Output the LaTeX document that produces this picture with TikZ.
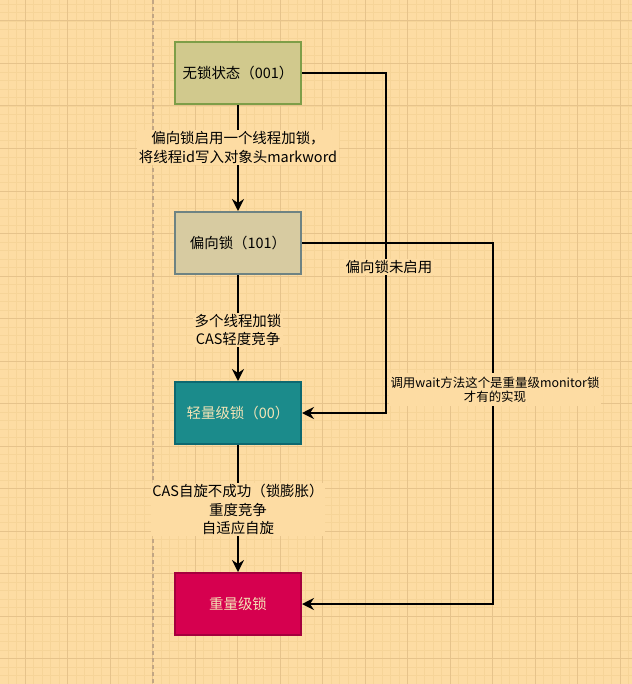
\documentclass[tikz,border=0pt]{standalone}
\usepackage{fontspec}
\setmainfont{Noto Sans CJK SC}
\usetikzlibrary{arrows.meta}
\definecolor{bg}{HTML}{FDDCA3}
\definecolor{minorc}{HTML}{F6D498}
\definecolor{majorc}{HTML}{E6C38B}
\definecolor{dashc}{HTML}{C2A684}
\definecolor{fillA}{HTML}{D1C98D}
\definecolor{drawA}{HTML}{7E9E48}
\definecolor{fillB}{HTML}{D7CBA1}
\definecolor{drawB}{HTML}{6E8383}
\definecolor{fillC}{HTML}{1B8B8B}
\definecolor{drawC}{HTML}{0D6870}
\definecolor{fillD}{HTML}{D6004F}
\definecolor{drawD}{HTML}{A5003D}
\definecolor{lighttext}{HTML}{F4E4B6}
\begin{document}
\begin{tikzpicture}[x=1bp,y=-1bp,
  box/.style={draw, line width=2bp, minimum width=126bp, minimum height=62bp, inner sep=0pt, font=\fontsize{14.5}{18}\selectfont},
  arr/.style={line width=2bp, -{Stealth[length=12bp,width=12bp,inset=4bp]}},
  lbl/.style={fill=bg, inner sep=1.5bp, align=center, font=\fontsize{14.5}{18.4}\selectfont},
  slbl/.style={fill=bg, inner sep=1.5bp, align=center, font=\fontsize{12.5}{13.6}\selectfont},
  minorline/.style={draw=minorc, line width=0.8bp},
  majorline/.style={draw=majorc, line width=1bp}]
\useasboundingbox (0,0) rectangle (632,684);
\fill[bg] (0,0) rectangle (632,684);
\foreach \i in {0,...,74} \draw[minorline] ({8+8.5*\i},0) -- ({8+8.5*\i},684);
\foreach \j in {0,...,80} \draw[minorline] (0,{4+8.5*\j}) -- (632,{4+8.5*\j});
\foreach \i in {0,...,14} \draw[majorline] ({25+42.5*\i},0) -- ({25+42.5*\i},684);
\foreach \j in {0,...,15} \draw[majorline] (0,{21+42.5*\j}) -- (632,{21+42.5*\j});
\draw[dashc, line width=1.5bp, dash pattern=on 4bp off 3bp] (153,0) -- (153,684);

\node[box, fill=fillA, draw=drawA] (n1) at (238,73) {无锁状态（001）};
\node[box, fill=fillB, draw=drawB] (n2) at (238,243) {偏向锁（101）};
\node[box, fill=fillC, draw=drawC, text=lighttext] (n3) at (238,413) {轻量级锁（00）};
\node[box, fill=fillD, draw=drawD, text=lighttext] (n4) at (238,604) {重量级锁};

\coordinate (a1) at (386,73);
\coordinate (a2) at (386,413);
\coordinate (b1) at (493,243);
\coordinate (b2) at (493,604);

\draw[arr] (n1) -- node[lbl, pos=0.40] {偏向锁启用一个线程加锁，\\将线程id写入对象头markword} (n2);
\draw[arr] (n2) -- node[lbl, pos=0.52] {多个线程加锁\\CAS轻度竞争} (n3);
\draw[arr] (n3) -- node[lbl, pos=0.51] {CAS自旋不成功（锁膨胀）\\重度竞争\\自适应自旋} (n4);
\draw[arr] (n1.east) -- (a1) -- node[lbl, pos=0.57, xshift=3bp] {偏向锁未启用} (a2) -- (n3.east);
\draw[arr] (n2.east) -- (b1) -- node[slbl, pos=0.406, xshift=2bp, inner ysep=4bp] {调用wait方法这个是重量级monitor锁\\才有的实现} (b2) -- (n4.east);
\end{tikzpicture}
\end{document}
